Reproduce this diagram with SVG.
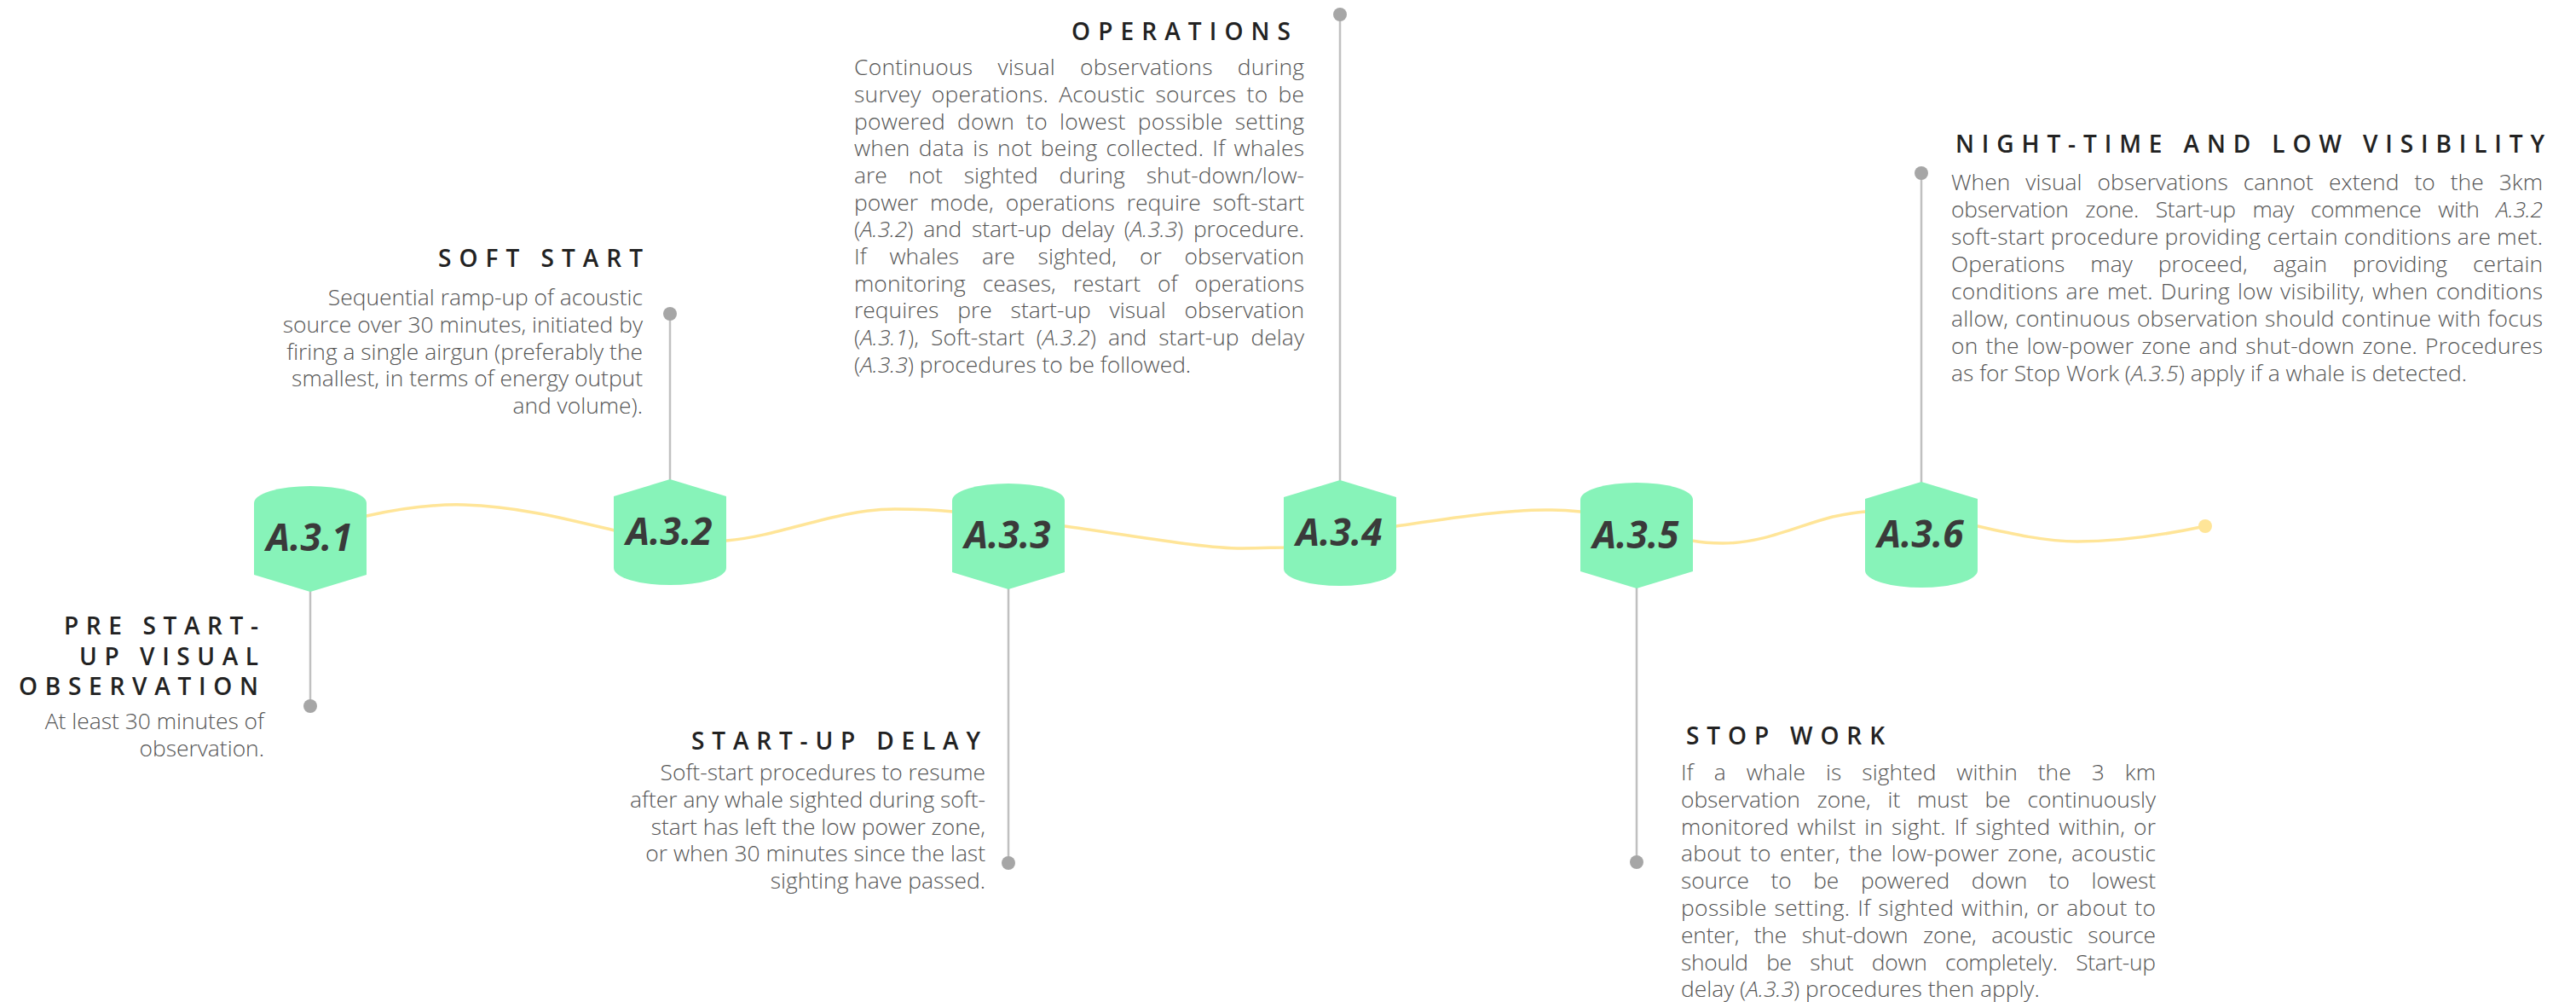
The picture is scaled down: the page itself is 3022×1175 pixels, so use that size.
<svg xmlns="http://www.w3.org/2000/svg" xmlns:xlink="http://www.w3.org/1999/xlink" width="3022" height="1175" viewBox="0 0 3022 1175">
  <style>
    .ttl { font-family: "Open Sans", "Liberation Sans", sans-serif; font-weight: 600; font-size: 28px; fill: #222; }
    .dsc { font-family: "Open Sans", "Liberation Sans", sans-serif; font-weight: 300; font-size: 26.4px; fill: #555; }
    .r { text-anchor: end; }
    .it { font-style: italic; }
    .lbl { font-family: "Open Sans", "Liberation Sans", sans-serif; font-weight: 700; font-style: italic; font-size: 44px; fill: #3a3a3a; text-anchor: middle; }
    .node { fill: #87F3B9; }
    .stem { stroke: #c0c0c0; stroke-width: 2.5; fill: none; }
    .dot { fill: #a6a6a6; }
    .wave { fill: none; stroke: #FFE598; stroke-width: 3.5; stroke-linecap: round; }
  </style>
  <defs>
    <!-- step marker with a rounded top and a pointed bottom (origin = top centre) -->
    <path id="node-down" d="M-66,20 A66,20 0 0 1 66,20 L66,104 L0,124 L-66,104 Z"/>
    <!-- step marker with a pointed top and a rounded bottom -->
    <path id="node-up" d="M-66,20 L0,0 L66,20 L66,104 A66,20 0 0 1 -66,104 Z"/>
  </defs>
  <rect width="3022" height="1175" fill="#ffffff"/>

  <!-- timeline and leader lines -->
  <g id="connectors">
    <path class="wave" d="M364,612 L430,605 C470,596 510,591 545,592 C610,594 670,610 721,622 L852,634 C920,628 980,597 1050,597 C1080,597 1100,598 1118,600 L1249,617 C1330,628 1410,643 1457,643 C1480,643 1495,642 1506,642 L1638,617 C1700,608 1770,597 1820,598 C1835,598 1845,599 1854,600 L1985,634 C2000,637 2010,637 2021,637 C2070,637 2110,616 2150,606 C2165,603 2176,601 2188,600 L2320,617 C2360,626 2400,635 2437,635 C2490,635 2540,627 2587,617"/>
    <circle cx="2587" cy="617" r="8" fill="#FFE598"/>
    <line class="stem" x1="364" y1="693" x2="364" y2="828"/>
    <circle class="dot" cx="364" cy="828" r="8"/>
    <line class="stem" x1="786" y1="368" x2="786" y2="563"/>
    <circle class="dot" cx="786" cy="368" r="8"/>
    <line class="stem" x1="1183" y1="690" x2="1183" y2="1012"/>
    <circle class="dot" cx="1183" cy="1012" r="8"/>
    <line class="stem" x1="1572" y1="17" x2="1572" y2="564"/>
    <circle class="dot" cx="1572" cy="17" r="8"/>
    <line class="stem" x1="1920" y1="689" x2="1920" y2="1011"/>
    <circle class="dot" cx="1920" cy="1011" r="8"/>
    <line class="stem" x1="2254" y1="203" x2="2254" y2="566"/>
    <circle class="dot" cx="2254" cy="203" r="8"/>
  </g>

  <!-- A.3.1 pre start-up visual observation -->
  <g id="step-a31">
    <use xlink:href="#node-down" href="#node-down" class="node" x="364" y="570"/>
    <text class="lbl" x="363" y="646">A.3.1</text>
    <text class="ttl r" x="303" y="744" textLength="228" lengthAdjust="spacing">PRE START-</text>
    <text class="ttl r" x="303" y="780" textLength="210" lengthAdjust="spacing">UP VISUAL</text>
    <text class="ttl r" x="303" y="815" textLength="281" lengthAdjust="spacing">OBSERVATION</text>
    <text class="dsc r" x="310" y="855">At least 30 minutes of</text>
    <text class="dsc r" x="310" y="887">observation.</text>
  </g>

  <!-- A.3.2 soft start -->
  <g id="step-a32">
    <use xlink:href="#node-up" href="#node-up" class="node" x="786" y="562"/>
    <text class="lbl" x="785" y="639">A.3.2</text>
    <text class="ttl r" x="754" y="313" textLength="240" lengthAdjust="spacing">SOFT START</text>
    <text class="dsc r" x="754" y="358">Sequential ramp-up of acoustic</text>
    <text class="dsc r" x="754" y="390">source over 30 minutes, initiated by</text>
    <text class="dsc r" x="754" y="422">firing a single airgun (preferably the</text>
    <text class="dsc r" x="754" y="453">smallest, in terms of energy output</text>
    <text class="dsc r" x="754" y="485">and volume).</text>
  </g>

  <!-- A.3.3 start-up delay -->
  <g id="step-a33">
    <use xlink:href="#node-down" href="#node-down" class="node" x="1183" y="567"/>
    <text class="lbl" x="1182" y="643">A.3.3</text>
    <text class="ttl r" x="1150" y="879" textLength="339" lengthAdjust="spacing">START-UP DELAY</text>
    <text class="dsc r" x="1156" y="915">Soft-start procedures to resume</text>
    <text class="dsc r" x="1156" y="947">after any whale sighted during soft-</text>
    <text class="dsc r" x="1156" y="979">start has left the low power zone,</text>
    <text class="dsc r" x="1156" y="1010">or when 30 minutes since the last</text>
    <text class="dsc r" x="1156" y="1042">sighting have passed.</text>
  </g>

  <!-- A.3.4 operations -->
  <g id="step-a34">
    <use xlink:href="#node-up" href="#node-up" class="node" x="1572" y="563"/>
    <text class="lbl" x="1571" y="640">A.3.4</text>
    <text class="ttl" x="1257" y="47" textLength="257" lengthAdjust="spacing">OPERATIONS</text>
    <text class="dsc" x="1002" y="88" textLength="528" lengthAdjust="spacing" word-spacing="22">Continuous visual observations during</text>
    <text class="dsc" x="1002" y="120" textLength="528" lengthAdjust="spacing" word-spacing="5">survey operations. Acoustic sources to be</text>
    <text class="dsc" x="1002" y="152" textLength="528" lengthAdjust="spacing" word-spacing="7">powered down to lowest possible setting</text>
    <text class="dsc" x="1002" y="183" textLength="528" lengthAdjust="spacing" word-spacing="3">when data is not being collected. If whales</text>
    <text class="dsc" x="1002" y="215" textLength="528" lengthAdjust="spacing" word-spacing="18">are not sighted during shut-down/low-</text>
    <text class="dsc" x="1002" y="247" textLength="528" lengthAdjust="spacing" word-spacing="7">power mode, operations require soft-start</text>
    <text class="dsc" x="1002" y="278" textLength="528" lengthAdjust="spacing" word-spacing="5">(<tspan class="it">A.3.2</tspan>) and start-up delay (<tspan class="it">A.3.3</tspan>) procedure.</text>
    <text class="dsc" x="1002" y="310" textLength="528" lengthAdjust="spacing" word-spacing="20">If whales are sighted, or observation</text>
    <text class="dsc" x="1002" y="342" textLength="528" lengthAdjust="spacing" word-spacing="13">monitoring ceases, restart of operations</text>
    <text class="dsc" x="1002" y="373" textLength="528" lengthAdjust="spacing" word-spacing="15">requires pre start-up visual observation</text>
    <text class="dsc" x="1002" y="405" textLength="528" lengthAdjust="spacing" word-spacing="7">(<tspan class="it">A.3.1</tspan>), Soft-start (<tspan class="it">A.3.2</tspan>) and start-up delay</text>
    <text class="dsc" x="1002" y="437">(<tspan class="it">A.3.3</tspan>) procedures to be followed.</text>
  </g>

  <!-- A.3.5 stop work -->
  <g id="step-a35">
    <use xlink:href="#node-down" href="#node-down" class="node" x="1920" y="566"/>
    <text class="lbl" x="1919" y="643">A.3.5</text>
    <text class="ttl" x="1978" y="873" textLength="233" lengthAdjust="spacing">STOP WORK</text>
    <text class="dsc" x="1972" y="915" textLength="557" lengthAdjust="spacing" word-spacing="17">If a whale is sighted within the 3 km</text>
    <text class="dsc" x="1972" y="947" textLength="557" lengthAdjust="spacing" word-spacing="13">observation zone, it must be continuously</text>
    <text class="dsc" x="1972" y="979" textLength="557" lengthAdjust="spacing" word-spacing="3">monitored whilst in sight. If sighted within, or</text>
    <text class="dsc" x="1972" y="1010" textLength="557" lengthAdjust="spacing" word-spacing="3">about to enter, the low-power zone, acoustic</text>
    <text class="dsc" x="1972" y="1042" textLength="557" lengthAdjust="spacing" word-spacing="19">source to be powered down to lowest</text>
    <text class="dsc" x="1972" y="1074" textLength="557" lengthAdjust="spacing" word-spacing="1.5">possible setting. If sighted within, or about to</text>
    <text class="dsc" x="1972" y="1106" textLength="557" lengthAdjust="spacing" word-spacing="11">enter, the shut-down zone, acoustic source</text>
    <text class="dsc" x="1972" y="1138" textLength="557" lengthAdjust="spacing" word-spacing="15">should be shut down completely. Start-up</text>
    <text class="dsc" x="1972" y="1169">delay (<tspan class="it">A.3.3</tspan>) procedures then apply.</text>
  </g>

  <!-- A.3.6 night-time and low visibility -->
  <g id="step-a36">
    <use xlink:href="#node-up" href="#node-up" class="node" x="2254" y="565"/>
    <text class="lbl" x="2253" y="642">A.3.6</text>
    <text class="ttl" x="2294" y="179" textLength="691" lengthAdjust="spacing">NIGHT-TIME AND LOW VISIBILITY</text>
    <text class="dsc" x="2289" y="223" textLength="694" lengthAdjust="spacing" word-spacing="11">When visual observations cannot extend to the 3km</text>
    <text class="dsc" x="2289" y="255" textLength="694" lengthAdjust="spacing" word-spacing="13">observation zone. Start-up may commence with <tspan class="it">A.3.2</tspan></text>
    <text class="dsc" x="2289" y="287" textLength="694" lengthAdjust="spacing">soft-start procedure providing certain conditions are met.</text>
    <text class="dsc" x="2289" y="319" textLength="694" lengthAdjust="spacing" word-spacing="23">Operations may proceed, again providing certain</text>
    <text class="dsc" x="2289" y="351" textLength="694" lengthAdjust="spacing" word-spacing="2">conditions are met. During low visibility, when conditions</text>
    <text class="dsc" x="2289" y="383" textLength="694" lengthAdjust="spacing" word-spacing="1">allow, continuous observation should continue with focus</text>
    <text class="dsc" x="2289" y="415" textLength="694" lengthAdjust="spacing" word-spacing="2">on the low-power zone and shut-down zone. Procedures</text>
    <text class="dsc" x="2289" y="447">as for Stop Work (<tspan class="it">A.3.5</tspan>) apply if a whale is detected.</text>
  </g>
</svg>
